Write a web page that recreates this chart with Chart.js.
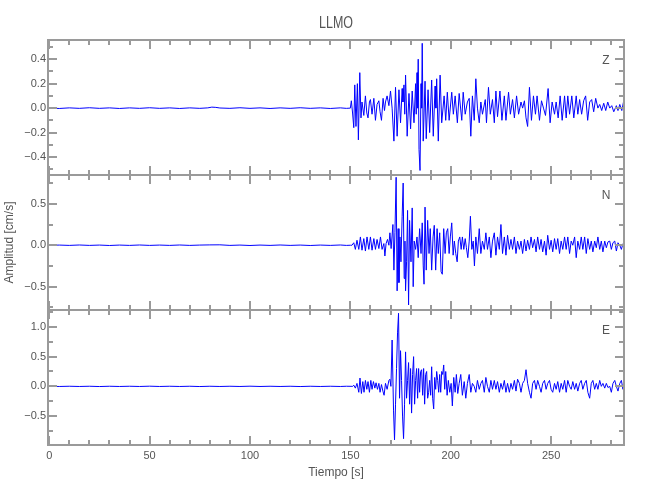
<!DOCTYPE html>
<html><head><meta charset="utf-8">
<script src="https://cdn.jsdelivr.net/npm/chart.js@4.4.1/dist/chart.umd.min.js"></script>
<style>html,body{margin:0;padding:0;background:#fff;}#wrap{position:relative;width:650px;height:500px;}</style>
</head><body><div id="wrap"><canvas id="c" width="650" height="500"></canvas></div>
<script>
const chartTitle = 'LLMO';
const components = ['Z', 'N', 'E'];
const xTitle = 'Tiempo [s]';
const yTitle = 'Amplitud [cm/s]';
const xRange = [-0.6, 286.3];
const zRange = [-0.547, 0.557];
const nRange = [-0.781, 0.847];
const eRange = [-0.987, 1.285];

// [time s, amplitude cm/s]
const zTrace = [
[0,0],[5,-0.003],[10,0.002],[15,-0.002],[20,0.003],[25,-0.002],[30,0.002],[35,-0.003],[40,0.002],[45,-0.002],[50,0.003],[55,-0.002],[60,0.002],[65,-0.003],[70,0.002],[75,-0.002],[79,0.002],[81,0.008],[83,0.006],[85,0.001],[90,-0.002],[95,0.003],[100,-0.002],[105,0.002],[110,-0.003],[115,0.002],[120,-0.002],[125,0.003],[130,-0.002],[135,0.002],[140,-0.003],[145,0.002],[148,-0.002],[150,0],
[150.5,0.06],[151.1,-0.04],[151.7,-0.16],[152.2,0.19],[152.8,-0.15],[153.5,0.20],[154.0,-0.26],[154.7,0.29],[155.3,-0.08],[155.8,0.05],[156.7,-0.06],[157.5,0.10],[158.2,-0.04],[158.8,-0.08],[159.5,0.05],[160.0,0.07],[160.8,-0.05],[161.7,0.08],[162.5,-0.10],[163.3,0.03],[164.2,0.06],[164.8,-0.03],[165.5,-0.10],[166.3,0.08],[167.0,-0.02],[167.5,0.05],[168.3,0.10],[169.2,0.02],[170.0,0.14],[170.8,0.0],[171.7,-0.27],[172.5,0.17],[173.3,-0.23],[174.2,0.15],[175.0,-0.12],[175.8,0.16],[176.2,0.05],[176.7,0.19],[177.1,-0.05],[177.5,0.27],[178.3,-0.23],[179.2,0.12],[180.0,-0.17],[180.8,0.14],[181.7,-0.12],[182.5,0.20],[182.8,-0.05],[183.2,0.29],[183.5,0.0],[183.8,0.40],[184.2,-0.34],[184.7,-0.51],[185.2,0.20],[185.5,0.0],[185.8,0.53],[186.3,-0.27],[187.2,0.22],[187.8,-0.25],[188.7,0.15],[189.5,-0.20],[190.5,0.23],[191.3,-0.23],[192.2,0.18],[192.6,0.0],[193.0,0.24],[193.8,-0.27],[194.7,0.27],[195.5,-0.12],[196.7,0.10],[197.5,-0.10],[198.3,0.13],[199.2,-0.10],[200.5,0.13],[201.3,-0.05],[202.2,0.10],[203.3,-0.12],[204.2,0.12],[205.5,-0.10],[206.2,0.13],[207.2,-0.05],[208.3,0.05],[209.2,0.08],[210.0,-0.23],[210.8,0.10],[211.7,-0.10],[212.5,0.24],[213.3,0.0],[214.2,-0.12],[215.0,0.05],[215.8,-0.05],[217.2,0.07],[217.8,-0.12],[218.8,0.17],[219.7,-0.05],[220.8,0.07],[221.7,-0.12],[222.5,0.14],[223.3,-0.07],[224.5,0.14],[225.5,-0.10],[226.7,0.10],[227.5,-0.10],[228.8,0.13],[229.7,-0.05],[230.8,0.07],[231.7,-0.08],[232.8,0.10],[233.8,-0.05],[235.0,0.05],[235.8,0.0],[236.7,0.06],[237.5,-0.08],[238.3,-0.15],[239.2,0.17],[240.2,-0.10],[241.2,0.10],[242.2,-0.05],[243.0,0.10],[244.2,-0.10],[245.2,0.06],[246.2,0.0],[247.2,-0.06],[248.5,0.16],[249.5,-0.12],[250.5,0.05],[251.7,-0.05],[252.5,0.05],[253.5,-0.08],[254.5,0.10],[255.5,-0.10],[256.7,0.10],[257.5,-0.08],[258.3,0.10],[259.2,-0.05],[260.3,0.10],[261.3,-0.08],[262.5,0.10],[263.3,-0.05],[264.2,0.07],[265.2,-0.05],[266.2,0.06],[267.2,0.10],[268.2,-0.10],[269.2,0.05],[270.2,0.07],[271.2,-0.03],[272.2,0.08],[273.3,0.0],[274.2,0.03],[275.2,-0.02],[276.2,0.04],[277.2,-0.02],[278.2,0.05],[279.2,0.0],[280.2,0.02],[281.2,-0.03],[282.5,0.02],[283.3,-0.02],[284.2,0.03],[285.2,-0.02],[286.3,0.07]
];

const nTrace = [
[0,0],[5,0.002],[10,-0.002],[15,0.003],[20,-0.002],[25,0.002],[30,-0.003],[35,0.002],[40,-0.002],[45,0.003],[50,-0.002],[55,0.002],[60,-0.002],[65,0.003],[70,-0.002],[75,0.002],[80,0.004],[85,0.005],[90,-0.002],[95,0.002],[100,-0.003],[105,0.002],[110,-0.002],[115,0.003],[120,-0.002],[125,0.002],[130,-0.003],[135,0.002],[140,-0.002],[145,0.003],[148,-0.002],[150,0],
[150.8,0.0],[151.7,0.03],[152.5,-0.05],[153.3,0.06],[154.2,-0.05],[155.0,0.10],[155.8,-0.06],[156.7,0.08],[157.5,-0.07],[158.3,0.10],[159.2,-0.05],[160.0,0.10],[160.8,-0.06],[161.7,0.08],[162.5,-0.05],[163.3,0.07],[164.2,-0.04],[165.0,0.10],[165.8,-0.05],[166.7,0.02],[167.2,-0.13],[167.8,0.02],[168.5,0.07],[169.2,0.0],[169.7,0.15],[170.3,-0.04],[171.2,0.25],[171.7,-0.30],[172.2,0.15],[172.8,0.82],[173.3,-0.55],[173.8,0.20],[174.2,-0.45],[174.7,0.10],[175.2,-0.20],[175.8,0.35],[176.3,0.75],[176.8,-0.40],[177.2,0.05],[177.5,-0.55],[178.0,-0.20],[178.5,0.42],[179.0,-0.72],[179.5,0.30],[180.2,-0.20],[180.8,0.45],[181.3,-0.50],[181.8,0.05],[182.5,-0.05],[183.2,0.10],[183.8,-0.15],[184.5,0.20],[185.2,-0.10],[185.8,0.27],[186.3,-0.25],[186.7,-0.47],[187.2,0.46],[187.8,-0.30],[188.5,0.30],[189.2,-0.10],[189.8,0.20],[190.5,-0.30],[191.2,0.10],[191.8,0.24],[192.5,-0.30],[193.2,0.20],[193.8,-0.10],[194.5,0.15],[195.2,-0.32],[195.8,-0.35],[196.5,0.20],[197.2,-0.10],[197.8,0.15],[198.5,0.20],[199.2,-0.10],[199.8,0.10],[200.5,0.27],[201.2,-0.12],[201.8,0.05],[202.5,-0.10],[203.2,-0.20],[203.8,0.05],[204.5,0.10],[205.2,-0.05],[205.8,0.10],[206.5,-0.05],[207.2,0.08],[207.8,-0.03],[208.5,-0.15],[209.2,0.05],[209.8,0.35],[210.5,-0.05],[211.2,0.05],[211.8,-0.25],[212.5,0.10],[213.3,-0.10],[214.2,0.20],[215.0,-0.10],[215.8,0.05],[216.7,-0.05],[217.5,0.15],[218.3,-0.05],[219.2,0.10],[220.0,-0.15],[220.8,0.05],[221.7,0.15],[222.5,-0.12],[223.3,0.10],[224.2,-0.05],[225.0,0.25],[225.8,-0.10],[226.7,0.10],[227.5,-0.12],[228.3,0.12],[229.2,-0.05],[230.0,0.07],[230.8,-0.05],[231.7,0.10],[232.5,-0.10],[233.3,0.05],[234.2,-0.05],[235.0,0.05],[235.8,-0.10],[236.7,0.07],[237.5,-0.07],[238.3,0.06],[239.2,-0.05],[240.0,0.10],[240.8,-0.03],[241.7,0.07],[242.5,-0.08],[243.3,0.10],[244.2,-0.05],[245.0,0.07],[245.8,-0.08],[246.7,0.05],[247.5,-0.12],[248.3,0.12],[249.2,-0.05],[250.0,0.06],[250.8,-0.08],[251.7,0.08],[252.5,-0.05],[253.3,0.08],[254.2,-0.10],[255.0,0.05],[255.8,-0.05],[256.7,0.10],[257.5,-0.05],[258.3,0.10],[259.2,-0.10],[260.0,0.05],[260.8,0.0],[261.7,0.10],[262.5,-0.15],[263.3,0.05],[264.2,-0.05],[265.0,0.10],[265.8,-0.05],[266.7,0.10],[267.5,-0.10],[268.3,0.08],[269.2,-0.05],[270.0,0.05],[270.8,-0.08],[271.7,0.05],[272.5,-0.03],[273.3,0.10],[274.2,-0.05],[275.0,0.05],[275.8,-0.08],[276.7,0.05],[277.5,-0.03],[278.3,0.04],[279.2,0.05],[280.0,-0.05],[280.8,0.03],[281.7,0.05],[282.5,-0.07],[283.3,0.03],[284.2,0.0],[285.0,-0.05],[285.8,0.02]
];

const eTrace = [
[0,0],[5,-0.002],[10,0.002],[15,-0.002],[20,0.002],[25,-0.003],[30,0.002],[35,-0.002],[40,0.002],[45,-0.002],[50,0.003],[55,-0.002],[60,0.002],[65,-0.002],[70,0.002],[75,-0.003],[80,0.002],[85,-0.002],[90,0.002],[95,-0.002],[100,0.003],[105,-0.002],[110,0.002],[115,-0.002],[120,0.002],[125,-0.003],[130,0.002],[135,-0.002],[140,0.002],[145,-0.002],[148,0.002],[151.2,0.0],
[151.7,0.02],[152.5,-0.03],[153.3,0.05],[154.2,-0.10],[154.8,0.14],[155.5,-0.12],[156.2,0.08],[156.8,-0.10],[157.5,0.10],[158.2,-0.05],[158.8,0.08],[159.5,-0.10],[160.2,0.10],[160.8,-0.05],[161.5,0.08],[162.2,-0.03],[162.8,0.06],[163.5,-0.05],[164.2,0.05],[164.8,-0.10],[165.5,0.03],[166.2,-0.08],[166.8,-0.15],[167.5,0.05],[168.3,-0.05],[169.2,0.10],[169.7,0.12],[170.2,0.0],[170.8,0.78],[171.5,-0.40],[172.0,-0.90],[172.5,-0.30],[173.0,0.30],[173.5,0.90],[174.0,1.23],[174.5,-0.20],[175.0,0.60],[175.5,0.10],[176.0,-0.50],[176.5,-0.88],[177.0,-0.30],[177.5,0.58],[178.0,-0.20],[178.5,0.10],[179.0,0.40],[179.5,-0.30],[180.0,0.30],[180.5,-0.45],[181.0,0.20],[181.5,0.50],[182.0,-0.30],[182.5,0.10],[183.0,0.30],[183.5,-0.20],[184.0,0.30],[184.5,-0.10],[185.0,0.25],[185.5,0.28],[186.0,-0.15],[186.5,0.30],[187.0,-0.30],[187.5,0.20],[188.0,0.25],[188.5,-0.20],[189.0,-0.10],[189.5,0.10],[190.0,-0.15],[190.5,0.33],[191.0,-0.20],[191.5,-0.38],[192.0,0.15],[192.5,-0.05],[193.0,0.25],[193.5,0.10],[194.0,-0.10],[194.5,0.20],[195.0,-0.10],[195.5,0.25],[196.0,0.20],[196.5,0.36],[197.0,-0.05],[197.5,0.25],[198.2,-0.15],[198.8,0.10],[199.5,-0.10],[200.2,0.05],[200.8,-0.33],[201.5,0.15],[202.2,-0.10],[202.8,0.20],[203.5,-0.12],[204.2,0.05],[205.0,0.20],[205.8,-0.15],[206.7,0.08],[207.5,-0.20],[208.3,0.05],[209.2,0.20],[210.0,-0.10],[210.8,0.05],[211.7,0.0],[212.5,-0.10],[213.3,0.10],[214.2,-0.05],[215.0,0.05],[215.8,0.10],[216.7,-0.10],[217.5,0.15],[218.3,0.0],[219.2,-0.10],[220.0,0.10],[220.8,-0.05],[221.7,0.10],[222.5,-0.05],[223.3,0.08],[224.2,-0.10],[225.0,0.05],[225.8,-0.05],[226.7,0.10],[227.5,-0.10],[228.3,0.05],[229.2,-0.10],[230.0,0.05],[230.8,-0.05],[231.7,0.10],[232.5,-0.08],[233.3,0.12],[234.2,0.05],[235.0,-0.10],[235.8,0.05],[236.7,0.10],[237.5,0.28],[238.3,0.05],[239.2,-0.10],[240.0,-0.20],[240.8,0.05],[241.7,0.10],[242.5,-0.05],[243.3,0.10],[244.2,0.0],[245.0,-0.10],[245.8,0.05],[246.7,0.10],[247.5,-0.05],[248.3,0.05],[249.2,0.10],[250.0,-0.05],[250.8,-0.10],[251.7,0.05],[252.5,-0.05],[253.3,0.08],[254.2,-0.10],[255.0,0.05],[255.8,-0.05],[256.7,0.10],[257.5,-0.10],[258.3,0.10],[259.2,0.0],[260.0,-0.05],[260.8,0.08],[261.7,-0.05],[262.5,0.05],[263.3,-0.08],[264.2,0.05],[265.0,0.10],[265.8,-0.05],[266.7,0.05],[267.5,0.10],[268.3,-0.10],[269.2,-0.20],[270.0,0.05],[270.8,0.10],[271.7,-0.05],[272.5,0.05],[273.3,-0.05],[274.2,0.10],[275.0,0.0],[275.8,0.05],[276.7,-0.03],[277.5,0.05],[278.3,-0.02],[279.2,0.0],[280.0,-0.10],[280.8,0.05],[281.7,0.10],[282.5,0.0],[283.3,-0.08],[284.2,0.05],[285.0,0.10],[285.8,-0.05],[286.3,0.10]
];

const FONT = "'Liberation Sans', Arial, sans-serif";
const TEXT = '#555555';
const AXIS = '#9a9a9a';
const LINE = '#0000ff';

function isMult(v, step) { const r = v / step; return Math.abs(r - Math.round(r)) < 1e-6; }
function fmt(v) { const s = (Math.abs(v) < 1e-9 ? 0 : v).toFixed(1); return s.replace('-', '\u2212'); }
function toPts(trace) { return trace.map(p => ({ x: p[0], y: p[1] })); }

function yAxis(range, minor, major, withTitle) {
  return {
    type: 'linear', position: 'left', stack: 'panels', stackWeight: 1,
    min: range[0], max: range[1],
    grid: { display: false, drawTicks: false }, border: { display: false },
    ticks: { stepSize: minor, includeBounds: false, autoSkip: false, padding: 2, color: TEXT, font: { family: FONT, size: 11 },
      callback: v => isMult(v, major) ? fmt(v) : '' },
    afterBuildTicks: s => { s.ticks = s.ticks.filter(t => isMult(t.value, minor)); },
    title: withTitle ? { display: true, text: yTitle, color: TEXT, font: { family: FONT, size: 12 }, padding: { top: 2, bottom: 0 } } : { display: false },
    afterFit: s => { s.width = 48; },
    _major: major
  };
}

const frame = {
  id: 'frame',
  afterDatasetsDraw(chart) {
    const { ctx, chartArea: a, scales } = chart;
    const xs = scales.x;
    ctx.save();
    ctx.strokeStyle = AXIS;
    ctx.lineWidth = 2;
    ['yz', 'yn', 'ye'].forEach((id, k) => {
      const s = scales[id];
      const major = s.options._major;
      ctx.beginPath();
      s.ticks.forEach(t => {
        const y = Math.round(s.getPixelForValue(t.value));
        const len = isMult(t.value, major) ? 9 : 5;
        ctx.moveTo(a.left, y); ctx.lineTo(a.left + len, y);
        ctx.moveTo(a.right, y); ctx.lineTo(a.right - len, y);
      });
      xs.ticks.forEach(t => {
        const x = Math.round(xs.getPixelForValue(t.value));
        const len = isMult(t.value, 50) ? 9 : 5;
        ctx.moveTo(x, s.top); ctx.lineTo(x, s.top + len);
        ctx.moveTo(x, s.bottom); ctx.lineTo(x, s.bottom - len);
      });
      ctx.stroke();
      ctx.strokeRect(a.left, s.top, a.right - a.left, s.bottom - s.top);
      ctx.fillStyle = TEXT;
      ctx.font = '12px ' + FONT;
      ctx.textAlign = 'center';
      ctx.textBaseline = 'middle';
      ctx.fillText(components[k], a.right - 18, s.top + 21);
    });
    // title, horizontally condensed like the original's narrow font
    ctx.fillStyle = TEXT;
    ctx.font = '16px ' + FONT;
    ctx.textAlign = 'center';
    ctx.textBaseline = 'middle';
    ctx.translate((a.left + a.right) / 2, 24);
    ctx.scale(0.78, 1);
    ctx.fillText(chartTitle, 0, 0);
    ctx.restore();
  }
};

const ds = (trace, yid) => ({
  data: toPts(trace), yAxisID: yid, xAxisID: 'x',
  borderColor: LINE, borderWidth: 1, pointRadius: 0, tension: 0, fill: false
});

new Chart(document.getElementById('c'), {
  type: 'line',
  data: { datasets: [ds(zTrace, 'yz'), ds(nTrace, 'yn'), ds(eTrace, 'ye')] },
  options: {
    responsive: false, animation: false, devicePixelRatio: 1,
    layout: { padding: { left: 0, right: 26, top: 40, bottom: 0 } },
    plugins: { legend: { display: false }, tooltip: { enabled: false }, title: { display: false } },
    scales: {
      x: {
        type: 'linear', position: 'bottom', min: xRange[0], max: xRange[1],
        grid: { display: false, drawTicks: false }, border: { display: false },
        ticks: { stepSize: 10, includeBounds: false, autoSkip: false, maxRotation: 0, padding: 4, color: TEXT, font: { family: FONT, size: 11 },
          callback: v => isMult(v, 50) ? String(Math.round(v)) : '' },
        afterBuildTicks: s => { s.ticks = s.ticks.filter(t => isMult(t.value, 10) && t.value >= 0); },
        title: { display: true, text: xTitle, color: TEXT, font: { family: FONT, size: 12 }, padding: { top: 0, bottom: 20 } },
        afterFit: s => { s.height = 55; }
      },
      ye: yAxis(eRange, 0.25, 0.5, false),
      yn: yAxis(nRange, 0.25, 0.5, true),
      yz: yAxis(zRange, 0.1, 0.2, false)
    }
  },
  plugins: [frame]
});
</script></body></html>
